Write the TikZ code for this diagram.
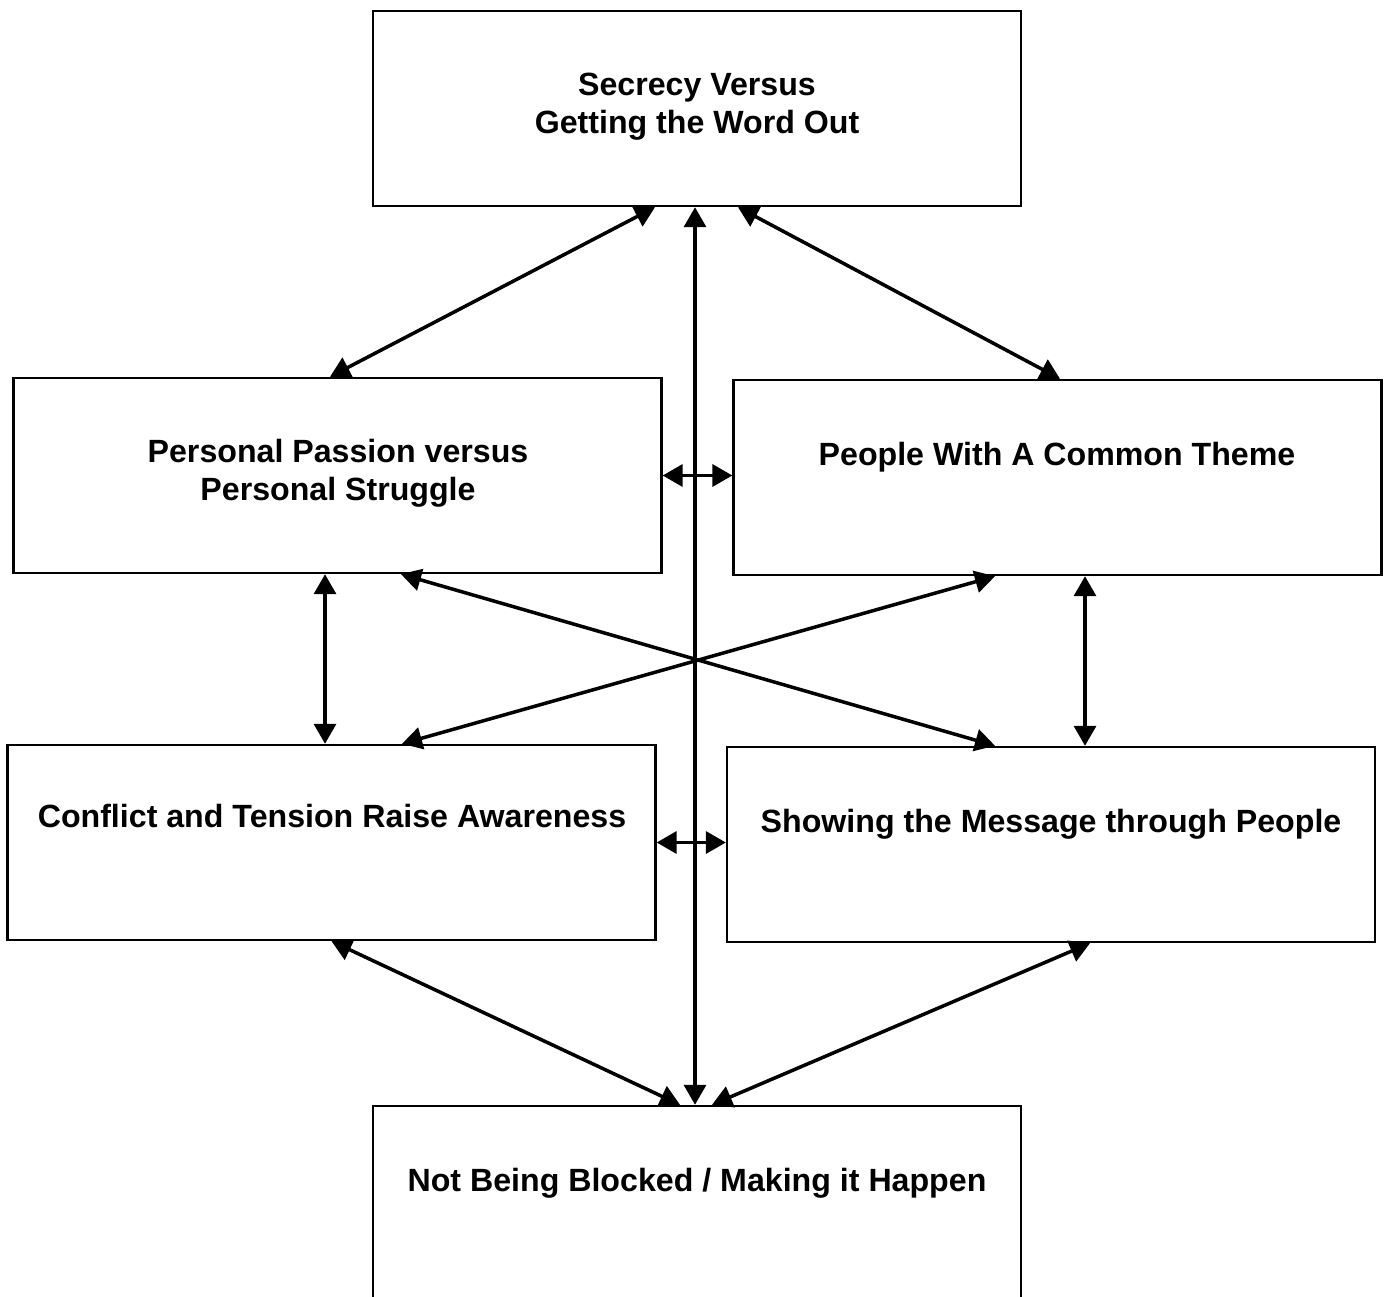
\documentclass[tikz,border=0pt]{standalone}
\usepackage{fontspec}
\setmainfont{Liberation Sans}
\usetikzlibrary{calc,arrows.meta}

\tikzset{
  box/.style={draw,line width=1.4pt,minimum width=12.96cm,minimum height=3.9cm,inner sep=0pt},
  lbl/.style={align=center,inner sep=0pt,font=\fontsize{18.3}{21.8}\selectfont\bfseries},
  link/.style={line width=2pt,{Triangle[length=0.4cm,width=0.44cm]}-{Triangle[length=0.4cm,width=0.44cm]}}
}

\begin{document}
\begin{tikzpicture}[x=0.02cm,y=-0.02cm]
              \useasboundingbox (0,0) rectangle (1389,1297);
              \clip (0,0) rectangle (1389,1297);
              % boxes
              \node[box](secrecy)at(697,108.5){};
              \node[box](passion)at(337.5,475.5){};
              \node[box](theme)at(1057.5,477.5){};
              \node[box](conflict)at(331.5,842.5){};
              \node[box](showing)at(1051,844.5){};
              \node[box](blocked)at(697,1203.5){};
              % texts
              \node[lbl](secrecyTxt)at(697,106.5){Secrecy Versus\\Getting the Word Out};
              \node[lbl](passionTxt)at(338,473){Personal Passion versus\\Personal Struggle};
              \node[lbl](themeTxt)at(1057,457){People With A Common Theme};
              \node[lbl](conflictTxt)at(332,816){Conflict and Tension Raise Awareness};
              \node[lbl](showingTxt)at(1051,824){Showing the Message through People};
              \node[lbl](blockedTxt)at(697,1183){Not Being Blocked / Making it Happen};
              % links
              \draw[link]([xshift=-0.84cm]secrecy.south)--([xshift=-0.15cm]passion.north);
              \draw[link]([xshift=-0.04cm]secrecy.south)--([xshift=-0.04cm]blocked.north);
              \draw[link]([xshift=0.82cm]secrecy.south)--([xshift=0.05cm]theme.north);
              \draw[link](passion.east)--(passion.east -| theme.west);
              \draw[link]([xshift=-0.25cm]passion.south)--([xshift=-0.25cm]passion.south |- conflict.north);
              \draw[link]([xshift=1.27cm]passion.south)--([xshift=-1.12cm]showing.north);
              \draw[link]([xshift=-1.25cm]theme.south)--([xshift=1.41cm]conflict.north);
              \draw[link]([xshift=0.55cm]theme.south)--([xshift=0.55cm]theme.south |- showing.north);
              \draw[link](conflict.east)--(conflict.east -| showing.west);
              \draw[link](conflict.south)--([xshift=-0.34cm]blocked.north);
              \draw[link]([xshift=0.78cm]showing.south)--([xshift=0.3cm]blocked.north);
\end{tikzpicture}
\end{document}
